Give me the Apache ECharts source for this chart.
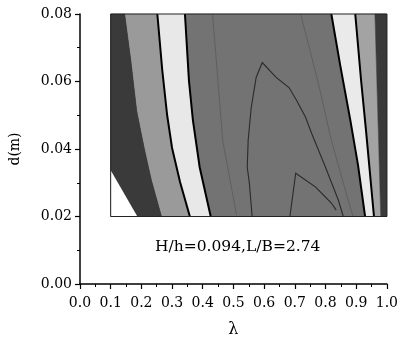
<!DOCTYPE html>
<html>
<head>
    <meta charset="utf-8">
    <title>contour</title>
    <script src="https://cdn.jsdelivr.net/npm/echarts@6/dist/echarts.min.js"></script>
    <style type="text/css">
        * { margin: 0; padding: 0; }
        body { background: #fff; }
        #main { width: 401px; height: 348px; }
    </style>
</head>
<body>
<div id="main"></div>
<script type="text/javascript">
    // 坐标轴刻度
    var lamTicks = [0.0, 0.1, 0.2, 0.3, 0.4, 0.5, 0.6, 0.7, 0.8, 0.9, 1.0];
    var dTicks = [0.00, 0.02, 0.04, 0.06, 0.08];

    // 等值线分界 (λ, d)，从上到下
    var edgeLeft = [[0.1, 0.08], [0.1, 0.02]];
    var b1 = [[0.148, 0.08], [0.168, 0.0663], [0.187, 0.0515], [0.19, 0.05], [0.213, 0.0397], [0.235, 0.0308], [0.268, 0.02]];
    var b2 = [[0.252, 0.08], [0.268, 0.0634], [0.284, 0.05], [0.3, 0.0403], [0.326, 0.0302], [0.358, 0.02]];
    var b3 = [[0.342, 0.08], [0.355, 0.0603], [0.368, 0.0485], [0.39, 0.0346], [0.426, 0.02]];
    var b4 = [[0.819, 0.08], [0.848, 0.0648], [0.881, 0.0485], [0.906, 0.0352], [0.929, 0.02]];
    var b5 = [[0.897, 0.08], [0.916, 0.0603], [0.932, 0.0455], [0.958, 0.02]];
    var b6 = [[0.961, 0.08], [0.971, 0.0485], [0.98, 0.02]];
    var edgeRight = [[1.0, 0.08], [1.0, 0.02]];
    var cornerWhite = [[0.1, 0.0337], [0.1, 0.02], [0.187, 0.02]];

    // 中间区域的细等值线
    var l1 = [[0.561, 0.02], [0.552, 0.0298], [0.545, 0.0346], [0.548, 0.0426], [0.558, 0.0523], [0.574, 0.0612], [0.594, 0.0656],
              [0.639, 0.0612], [0.681, 0.0582], [0.706, 0.0544], [0.735, 0.0494], [0.755, 0.0446], [0.8, 0.0346], [0.842, 0.0248], [0.858, 0.02]];
    var l2 = [[0.684, 0.02], [0.703, 0.0328], [0.768, 0.0287], [0.819, 0.024], [0.835, 0.0219]];
    var l3 = [[0.719, 0.08], [0.777, 0.0594], [0.819, 0.0426], [0.874, 0.0248], [0.89, 0.02]];
    var l4 = [[0.432, 0.08], [0.465, 0.0426], [0.51, 0.0205]];

    var bandEdges = [edgeLeft, b1, b2, b3, b4, b5, b6, edgeRight];
    var bandColors = ['#3a3a3a', '#9a9a9a', '#e8e8e8', '#737373', '#eaeaea', '#a3a3a3', '#3a3a3a'];
    var blackEdges = [b2, b3, b4, b5];
    var thinLines = [l1, l2];
    var faintLines = [l3, l4];
    var box = [[0.1, 0.08], [1.0, 0.08], [1.0, 0.02], [0.1, 0.02]];

    var myChart = echarts.init(document.getElementById('main'));

    function toPx(api, pts) {
        return pts.map(function (p) { return api.coord(p); });
    }

    // 折线系列
    function lineSeries(lines, color, width) {
        return {
            type: 'custom',
            data: lines.map(function (l, i) { return [i]; }),
            renderItem: function (params, api) {
                return {
                    type: 'polyline',
                    shape: { points: toPx(api, lines[api.value(0)]) },
                    style: { stroke: color, lineWidth: width, fill: null }
                };
            }
        };
    }

    var option = {
        animation: false,
        textStyle: { fontFamily: 'DejaVu Serif' },
        grid: { left: 79, right: 12, top: 14, bottom: 64 },
        xAxis: {
            type: 'value', min: 0, max: 1, interval: 0.1,
            name: 'λ', nameLocation: 'middle', nameGap: 38,
            nameTextStyle: { color: '#000', fontSize: 16, fontFamily: 'DejaVu Serif' },
            axisLine: { lineStyle: { color: '#000', width: 1.5 } },
            axisTick: { length: 5, lineStyle: { color: '#000', width: 1.2 } },
            minorTick: { show: true, splitNumber: 2, length: 3, lineStyle: { color: '#000' } },
            splitLine: { show: false },
            axisLabel: {
                color: '#000', fontSize: 14, margin: 12,
                formatter: function (v) { return v.toFixed(1); }
            }
        },
        yAxis: {
            type: 'value', min: 0, max: 0.08, interval: 0.02,
            name: 'd(m)', nameLocation: 'middle', nameGap: 58,
            nameTextStyle: { color: '#000', fontSize: 14, fontFamily: 'DejaVu Serif' },
            axisLine: { show: true, lineStyle: { color: '#000', width: 1.5 } },
            axisTick: { show: true, length: 5, lineStyle: { color: '#000', width: 1.2 } },
            minorTick: { show: true, splitNumber: 2, length: 3, lineStyle: { color: '#000' } },
            splitLine: { show: false },
            axisLabel: {
                color: '#000', fontSize: 14, margin: 8,
                formatter: function (v) { return v.toFixed(2); }
            }
        },
        graphic: [{
            type: 'text', left: 155, top: 239,
            style: { text: 'H/h=0.094,L/B=2.74', fill: '#000', font: '15.5px "DejaVu Serif"' }
        }],
        series: [{
            // 色带
            type: 'custom',
            data: bandColors.map(function (c, i) { return [i]; }),
            renderItem: function (params, api) {
                var i = api.value(0);
                var pts = bandEdges[i].concat(bandEdges[i + 1].slice().reverse());
                return {
                    type: 'polygon',
                    shape: { points: toPx(api, pts) },
                    style: { fill: bandColors[i], stroke: bandColors[i], lineWidth: 0.5 }
                };
            }
        }, {
            type: 'custom',
            data: [[0]],
            renderItem: function (params, api) {
                return {
                    type: 'polygon',
                    shape: { points: toPx(api, cornerWhite) },
                    style: { fill: '#fff' }
                };
            }
        },
            lineSeries(faintLines, '#5a5a5a', 0.8),
            lineSeries(thinLines, '#2a2a2a', 1.1),
            lineSeries(blackEdges, '#000', 2),
        {
            type: 'custom',
            data: [[0]],
            renderItem: function (params, api) {
                return {
                    type: 'polygon',
                    shape: { points: toPx(api, box) },
                    style: { fill: null, stroke: '#222', lineWidth: 1 }
                };
            }
        }]
    };
    myChart.setOption(option);
</script>
</body>
</html>
